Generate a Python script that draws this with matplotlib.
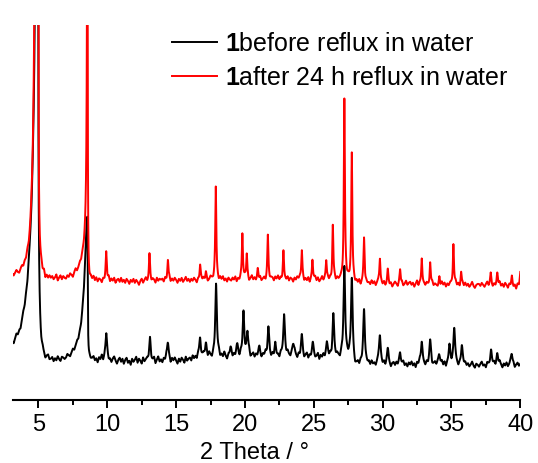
import numpy as np
import matplotlib
matplotlib.use("Agg")
import matplotlib.pyplot as plt
from matplotlib.ticker import MultipleLocator

plt.rcParams['font.family'] = ['Liberation Sans', 'DejaVu Sans']
plt.rcParams['mathtext.fontset'] = 'custom'
plt.rcParams['mathtext.rm'] = 'Liberation Sans'
plt.rcParams['mathtext.bf'] = 'Liberation Sans:bold'

# background counts, one knot every 0.1 deg from 3.0 to 40.0 (one row per degree)
knot_theta = np.linspace(3.0, 40.0, 371)
black_base = [
    40, 42, 38, 41, 43, 39, 40, 37, 41, 42,
    39, 41, 38, 42, 40, 37, 41, 39, 42, 40,
    36, 38, 35, 39, 37, 34, 38, 40, 36, 37,
    39, 35, 38, 36, 40, 37, 35, 39, 38, 36,
    37, 40, 38, 36, 39, 41, 38, 40, 42, 39,
    41, 39, 42, 40, 43, 41, 39, 42, 40, 41,
    43, 39, 41, 37, 42, 40, 44, 38, 41, 39,
    42, 38, 40, 37, 41, 43, 39, 36, 40, 42,
    38, 41, 36, 40, 42, 37, 39, 35, 41, 38,
    40, 43, 37, 41, 39, 36, 42, 38, 40, 41,
    38, 41, 37, 39, 42, 36, 40, 43, 38, 40,
    37, 41, 39, 43, 38, 40, 36, 41, 39, 42,
    39, 36, 41, 38, 42, 40, 37, 43, 39, 41,
    42, 39, 44, 41, 43, 40, 45, 42, 39, 43,
    45, 42, 44, 41, 46, 43, 40, 44, 42, 45,
    43, 46, 41, 44, 42, 47, 43, 40, 45, 43,
    46, 42, 45, 43, 48, 44, 41, 46, 43, 45,
    42, 45, 43, 47, 41, 44, 46, 42, 45, 43,
    46, 43, 41, 45, 44, 47, 42, 45, 43, 41,
    45, 42, 47, 43, 44, 41, 46, 44, 42, 45,
    43, 47, 44, 42, 46, 43, 48, 44, 41, 45,
    42, 45, 43, 40, 44, 46, 41, 44, 42, 45,
    44, 41, 43, 46, 40, 44, 42, 45, 41, 43,
    46, 42, 44, 40, 45, 43, 41, 44, 42, 39,
    44, 42, 45, 41, 43, 40, 42, 39, 41, 37,
    31, 34, 36, 33, 37, 35, 38, 34, 36, 35,
    37, 34, 38, 35, 36, 33, 37, 39, 35, 36,
    34, 37, 33, 36, 38, 35, 32, 36, 37, 34,
    37, 34, 36, 32, 35, 38, 34, 36, 33, 37,
    35, 38, 34, 36, 32, 37, 35, 39, 34, 36,
    35, 33, 37, 34, 36, 38, 33, 35, 37, 34,
    36, 33, 35, 38, 34, 37, 32, 36, 35, 38,
    34, 36, 33, 37, 35, 32, 36, 34, 38, 35,
    37, 34, 36, 33, 35, 38, 34, 32, 36, 35,
    33, 36, 38, 34, 35, 32, 37, 35, 33, 36,
    35, 37, 33, 36, 34, 38, 35, 32, 36, 34,
    37, 33, 35, 38, 34, 36, 32, 35, 37, 34,
    36]
red_base = [
    40, 42, 39, 41, 43, 40, 38, 41, 42, 39,
    41, 39, 42, 38, 40, 43, 39, 41, 38, 40,
    39, 37, 41, 38, 42, 36, 40, 38, 41, 39,
    41, 38, 40, 43, 37, 40, 42, 38, 41, 39,
    38, 41, 39, 42, 40, 37, 41, 43, 39, 40,
    42, 39, 41, 38, 40, 43, 41, 39, 42, 40,
    43, 39, 42, 38, 41, 40, 37, 41, 39, 42,
    40, 43, 38, 41, 39, 42, 37, 40, 41, 38,
    42, 38, 40, 37, 41, 39, 36, 40, 38, 41,
    37, 40, 38, 35, 39, 41, 37, 40, 42, 38,
    39, 42, 38, 41, 40, 37, 42, 39, 41, 40,
    41, 38, 42, 39, 40, 43, 38, 41, 39, 42,
    40, 37, 41, 39, 42, 38, 40, 43, 39, 41,
    38, 41, 39, 42, 40, 37, 41, 39, 42, 40,
    42, 39, 41, 38, 40, 43, 41, 39, 42, 40,
    41, 38, 42, 40, 43, 39, 41, 38, 42, 40,
    39, 42, 40, 43, 38, 41, 39, 42, 40, 41,
    43, 40, 42, 38, 41, 44, 40, 42, 39, 41,
    40, 43, 39, 41, 42, 38, 41, 43, 40, 42,
    42, 39, 43, 41, 44, 40, 42, 39, 43, 41,
    40, 43, 39, 42, 41, 38, 42, 40, 43, 41,
    43, 40, 42, 38, 41, 39, 42, 37, 40, 39,
    41, 43, 39, 42, 38, 40, 43, 39, 41, 40,
    42, 39, 41, 37, 40, 42, 38, 41, 39, 40,
    41, 38, 40, 42, 39, 41, 38, 40, 37, 39,
    35, 38, 36, 39, 34, 37, 39, 35, 38, 36,
    37, 35, 39, 36, 38, 34, 37, 39, 35, 37,
    35, 38, 34, 36, 39, 35, 37, 33, 36, 38,
    36, 33, 37, 35, 38, 34, 36, 39, 35, 37,
    38, 35, 37, 33, 36, 39, 34, 37, 35, 36,
    36, 34, 37, 35, 33, 36, 38, 34, 36, 35,
    33, 36, 34, 38, 35, 37, 33, 36, 34, 37,
    36, 33, 35, 38, 34, 36, 32, 35, 37, 34,
    37, 34, 36, 33, 35, 38, 34, 32, 35, 36,
    36, 34, 37, 35, 33, 36, 38, 34, 36, 35,
    33, 36, 34, 37, 35, 38, 34, 36, 33, 37,
    35, 32, 36, 34, 37, 33, 35, 31, 36, 34,
    38]

# reflections: 2theta (deg), height, half width on the low / high angle side
black_pos = [4.90, 4.90, 4.98, 8.55, 8.55, 9.92, 13.10, 14.40, 16.74, 17.16,
             17.90, 18.95, 19.45, 19.89, 20.18, 21.05, 21.70, 22.20, 22.84, 23.50,
             24.13, 24.93, 25.94, 26.42, 27.22, 27.76, 28.65, 29.80, 30.37, 31.27,
             32.84, 33.45, 34.10, 34.85, 35.20, 35.75, 37.87, 38.33, 39.38]
black_amp = [520, 200, 300, 83, 60, 27, 22, 19, 21, 13,
             71, 8, 9, 43, 23, 9, 28, 10, 42, 12,
             21, 13, 13, 41, 88, 80, 54, 29, 14, 14,
             23, 23, 12, 18, 38, 18, 15, 11, 11]
black_wl = [0.10, 0.50, 0.08, 0.18, 0.40] + [0.07] * 34
black_wr = [0.06, 0.06, 0.008, 0.03, 0.03] + [0.07] * 34

red_pos = [4.88, 5.00, 8.56, 8.56, 9.92, 13.06, 14.40, 16.74, 17.16, 17.88,
           19.81, 20.13, 20.93, 21.66, 22.79, 24.13, 24.90, 25.90, 26.38, 27.22,
           27.76, 28.65, 29.80, 30.37, 31.27, 32.84, 33.45, 34.12, 35.14, 35.70,
           37.85, 38.33, 39.38, 40.00]
red_amp = [650, 400, 400, 45, 27, 26, 20, 15, 8, 93,
           46, 25, 11, 43, 27, 29, 21, 19, 55, 180,
           128, 45, 26, 13, 15, 26, 23, 8, 42, 13,
           12, 11, 8, 10]
red_wl = [0.14, 0.08, 0.045, 0.38] + [0.045] * 30
red_wr = [0.06, 0.008, 0.02, 0.03] + [0.045] * 30

red_offset = 80
labels = [r'$\mathbf{1}$before reflux in water',
          r'$\mathbf{1}$after 24 h reflux in water']


def pattern(theta, base, pos, amp, wl, wr):
    y = np.interp(theta, knot_theta, base).astype(float)
    for p, a, l, r in zip(pos, amp, wl, wr):
        w = np.where(theta < p, l, r)
        y += a / (1.0 + ((theta - p) / w) ** 2)
    return y


theta = np.arange(3.15, 40.0001, 0.005)
black = pattern(theta, black_base, black_pos, black_amp, black_wl, black_wr)
red = pattern(theta, red_base, red_pos, red_amp, red_wl, red_wr) + red_offset

fig = plt.figure(figsize=(5.38, 4.63), dpi=100)
ax = fig.add_axes([13 / 538, 1 - 400 / 463, 507.3 / 538, 375 / 463])

ax.plot(theta, black, color='black', lw=1.4, label=labels[0])
ax.plot(theta, red, color='#ff0000', lw=1.4, label=labels[1])

ax.set_xlim(3.15, 40)
ax.set_ylim(0, 375)
for side in ('left', 'right', 'top'):
    ax.spines[side].set_visible(False)
ax.spines['bottom'].set_linewidth(1.5)
ax.set_yticks([])
ax.xaxis.set_major_locator(MultipleLocator(5))
ax.xaxis.set_minor_locator(MultipleLocator(2.5))
ax.tick_params(axis='x', which='major', direction='out', length=6, width=1.4,
               labelsize=17, pad=4)
ax.tick_params(axis='x', which='minor', direction='out', length=3.5, width=1.4)

ax.set_xlabel('2 Theta / \u00b0', fontsize=17)
ax.xaxis.set_label_coords(0.477, -0.112)

ax.legend(loc='upper left', bbox_to_anchor=(172 / 538, 1 - 32 / 463),
          bbox_transform=fig.transFigure, frameon=False, fontsize=18,
          handlelength=1.8, handletextpad=0.32, labelspacing=0.4,
          borderpad=0, borderaxespad=0)

fig.savefig('out.png', dpi=100)
